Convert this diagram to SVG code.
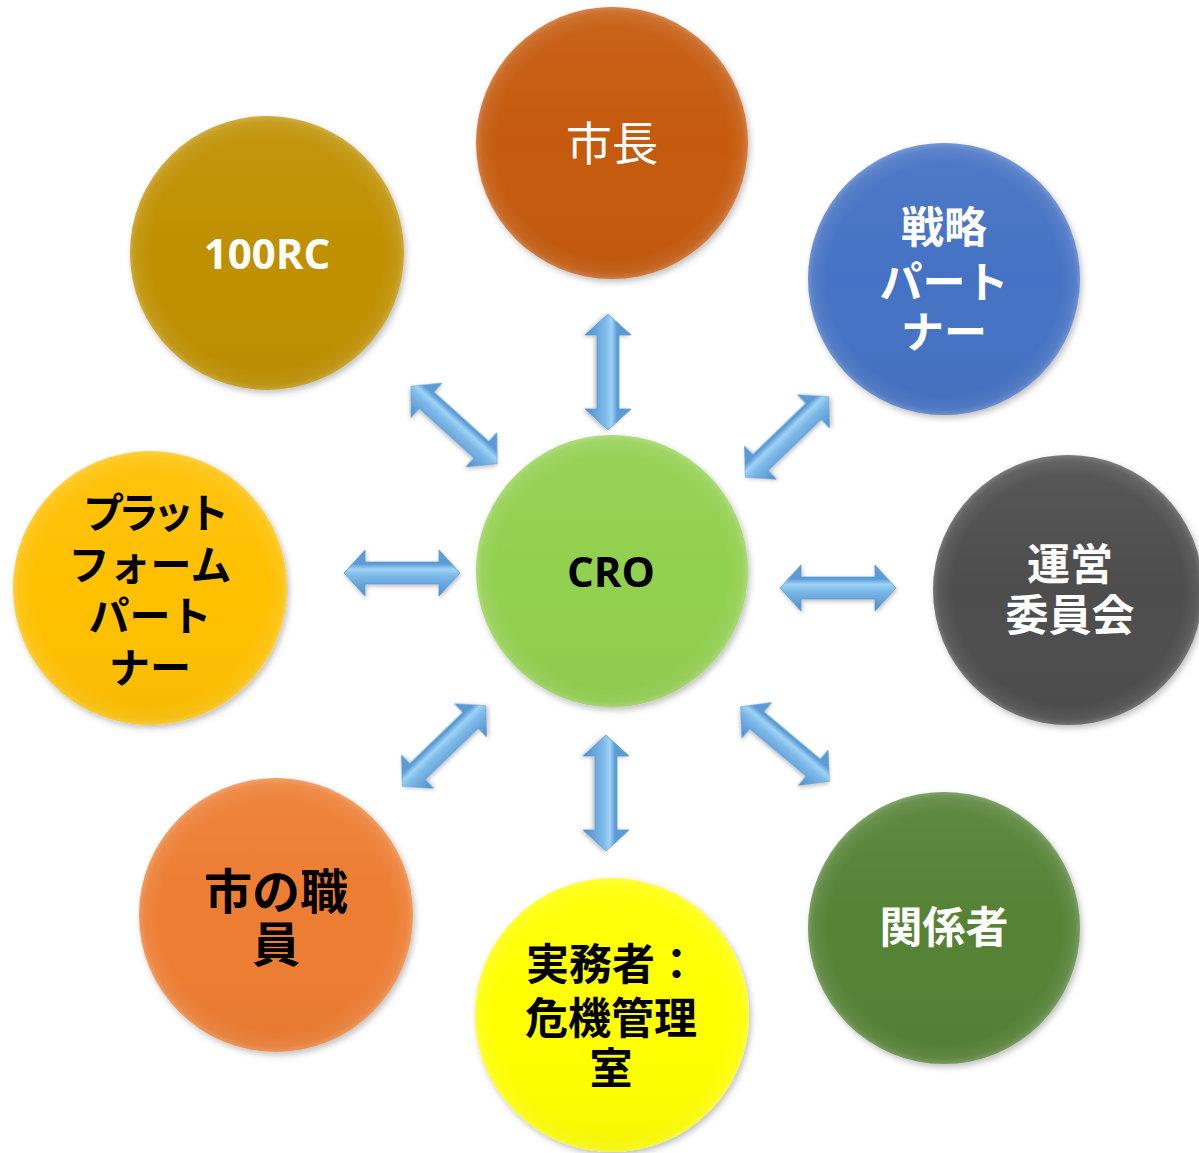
<svg xmlns="http://www.w3.org/2000/svg" width="1199" height="1153" viewBox="0 0 1199 1153">
<defs>
<style>
.ja{font-family:"Noto Sans CJK JP","Noto Sans",sans-serif;font-size:43px;text-anchor:middle}
.b{font-weight:bold}
.en{font-family:"Open Sans","Liberation Sans",sans-serif;font-size:42px;font-weight:bold;text-anchor:middle}
.w{fill:#ffffff}
.k{fill:#000000}
.arrow{fill:url(#ag);stroke:#5b9bd5;stroke-width:0.8;filter:url(#ash)}
</style>
<filter id="sh" x="-20%" y="-20%" width="140%" height="140%">
<feDropShadow dx="2" dy="3" stdDeviation="3" flood-color="#000000" flood-opacity="0.25"/>
</filter>
<filter id="ash" x="-30%" y="-30%" width="160%" height="160%">
<feDropShadow dx="1" dy="2" stdDeviation="2" flood-color="#000000" flood-opacity="0.25"/>
</filter>
<radialGradient id="bevel" cx="50%" cy="50%" r="50%">
<stop offset="0.85" stop-color="#ffffff" stop-opacity="0"/>
<stop offset="0.96" stop-color="#ffffff" stop-opacity="0.08"/>
<stop offset="1" stop-color="#ffffff" stop-opacity="0.22"/>
</radialGradient>
<linearGradient id="shade" x1="0" y1="0" x2="0" y2="1">
<stop offset="0" stop-color="#ffffff" stop-opacity="0.06"/>
<stop offset="0.5" stop-color="#ffffff" stop-opacity="0"/>
<stop offset="1" stop-color="#000000" stop-opacity="0.04"/>
</linearGradient>
<linearGradient id="ag" x1="0" y1="0" x2="0" y2="1">
<stop offset="0" stop-color="#5b9bd5"/>
<stop offset="0.3" stop-color="#5b9bd5"/>
<stop offset="0.42" stop-color="#9fd3f6"/>
<stop offset="0.56" stop-color="#7db9e8"/>
<stop offset="1" stop-color="#4d8ccb"/>
</linearGradient>
<path id="dbl" d="M-58,0 L-37,-23 L-37,-11 L37,-11 L37,-23 L58,0 L37,23 L37,11 L-37,11 L-37,23 Z"/>
</defs>
<rect width="1199" height="1153" fill="#ffffff"/>

<g id="connectors">
<use href="#dbl" class="arrow" transform="translate(608,372) rotate(90)"/>
<use href="#dbl" class="arrow" transform="translate(454,425) rotate(42)"/>
<use href="#dbl" class="arrow" transform="translate(787,437) rotate(-44)"/>
<use href="#dbl" class="arrow" transform="translate(402,573)"/>
<use href="#dbl" class="arrow" transform="translate(838,588)"/>
<use href="#dbl" class="arrow" transform="translate(444,746) rotate(-44)"/>
<use href="#dbl" class="arrow" transform="translate(606,793) rotate(90)"/>
<use href="#dbl" class="arrow" transform="translate(785,744) rotate(40)"/>
</g>

<g id="node-mayor">
<circle cx="612" cy="143" r="136" fill="#c55a11" filter="url(#sh)"/>
<circle cx="612" cy="143" r="136" fill="url(#shade)"/>
<circle cx="612" cy="143" r="136" fill="url(#bevel)"/>
<text class="ja w" x="612" y="160" style="font-size:46px">市長</text>
</g>

<g id="node-100rc">
<circle cx="267" cy="253" r="137" fill="#bf9000" filter="url(#sh)"/>
<circle cx="267" cy="253" r="137" fill="url(#shade)"/>
<circle cx="267" cy="253" r="137" fill="url(#bevel)"/>
<text class="en w" x="267" y="269">100RC</text>
</g>

<g id="node-strategy">
<circle cx="944" cy="279" r="136" fill="#4472c4" filter="url(#sh)"/>
<circle cx="944" cy="279" r="136" fill="url(#shade)"/>
<circle cx="944" cy="279" r="136" fill="url(#bevel)"/>
<text class="ja b w" x="944" y="243">戦略</text>
<text class="ja b w" x="944" y="298">パート</text>
<text class="ja b w" x="944" y="348">ナー</text>
</g>

<g id="node-platform">
<circle cx="150" cy="588" r="137" fill="#ffc000" filter="url(#sh)"/>
<circle cx="150" cy="588" r="137" fill="url(#shade)"/>
<circle cx="150" cy="588" r="137" fill="url(#bevel)"/>
<text class="ja b k" x="153" y="528" style="font-size:41px;letter-spacing:-6px">プラット</text>
<text class="ja b k" x="150" y="580" style="font-size:41px">フォーム</text>
<text class="ja b k" x="150" y="631" style="font-size:41px">パート</text>
<text class="ja b k" x="150" y="683" style="font-size:41px">ナー</text>
</g>

<g id="node-cro">
<circle cx="612" cy="571" r="136" fill="#92d050" filter="url(#sh)"/>
<circle cx="612" cy="571" r="136" fill="url(#shade)"/>
<circle cx="612" cy="571" r="136" fill="url(#bevel)"/>
<text class="en k" x="611" y="587">CRO</text>
</g>

<g id="node-steering">
<circle cx="1068" cy="590" r="135" fill="#4d4d4d" filter="url(#sh)"/>
<circle cx="1068" cy="590" r="135" fill="url(#shade)"/>
<circle cx="1068" cy="590" r="135" fill="url(#bevel)"/>
<text class="ja b w" x="1070" y="580">運営</text>
<text class="ja b w" x="1070" y="631">委員会</text>
</g>

<g id="node-staff">
<circle cx="276" cy="915" r="137" fill="#ed7d31" filter="url(#sh)"/>
<circle cx="276" cy="915" r="137" fill="url(#shade)"/>
<circle cx="276" cy="915" r="137" fill="url(#bevel)"/>
<text class="ja b k" x="276" y="909" style="font-size:48px">市の職</text>
<text class="ja b k" x="276" y="962" style="font-size:48px">員</text>
</g>

<g id="node-practitioner">
<circle cx="612" cy="1015" r="137" fill="#ffff00" filter="url(#sh)"/>
<circle cx="612" cy="1015" r="137" fill="url(#shade)"/>
<circle cx="612" cy="1015" r="137" fill="url(#bevel)"/>
<text class="ja b k" x="612" y="980">実務者：</text>
<text class="ja b k" x="611" y="1034">危機管理</text>
<text class="ja b k" x="611" y="1084">室</text>
</g>

<g id="node-stakeholders">
<circle cx="944" cy="928" r="136" fill="#548235" filter="url(#sh)"/>
<circle cx="944" cy="928" r="136" fill="url(#shade)"/>
<circle cx="944" cy="928" r="136" fill="url(#bevel)"/>
<text class="ja b w" x="944" y="943">関係者</text>
</g>
</svg>
